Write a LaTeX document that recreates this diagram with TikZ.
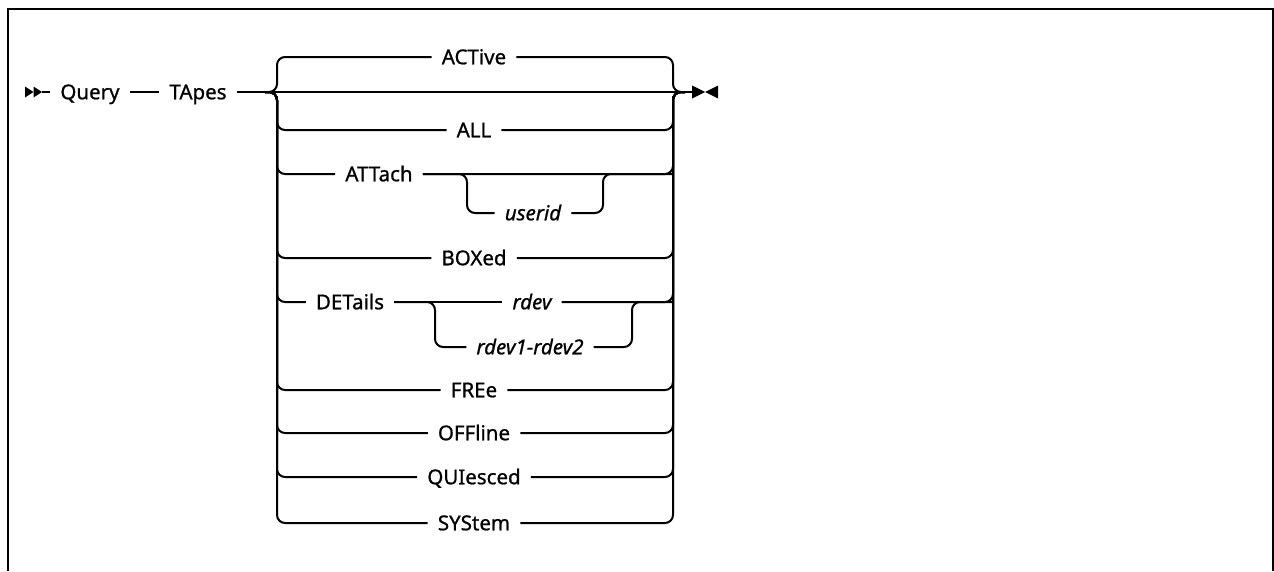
\documentclass[tikz,border=0pt]{standalone}
\usepackage{fontspec}
\setmainfont{Noto Sans}[FakeBold=0.9,ItalicFeatures={FakeBold=0.9}]
\usepackage{tikz}
\usetikzlibrary{positioning,calc}

\begin{document}
\begin{tikzpicture}[
    x=1pt,y=-1pt,
    font=\fontsize{20.5}{23}\selectfont,
    kw/.style={inner xsep=10pt,inner ysep=0pt,text height=14.5pt,text depth=0pt},
    var/.style={kw,font=\fontsize{20.5}{23}\selectfont\itshape},
    track/.style={line width=2pt,rounded corners=8pt},
    frame/.style={line width=2.5pt}
  ]
    \useasboundingbox (0,0) rectangle (1274,571);
    \draw[frame] (8,571) -- (8,9) -- (1273,9) -- (1273,571);

    \node[kw] (query) at (90,92) {Query};
    \node[kw] (tapes) at (198,92) {TApes};

    \node[kw] (active) at (474,57) {ACTive};
    \node[kw] (all) at (474,130) {ALL};
    \node[kw] (attach) at (379,174) {ATTach};
    \node[var] (userid) at (533,213) {userid};
    \node[kw] (boxed) at (474,258) {BOXed};
    \node[kw] (details) at (350,302) {DETails};
    \node[var] (rdev) at (532,302) {rdev};
    \node[var] (rdevr) at (530,347) {rdev1-rdev2};
    \node[kw] (free) at (474,390) {FREe};
    \node[kw] (offline) at (474,433) {OFFline};
    \node[kw] (quiesced) at (474,477) {QUIesced};
    \node[kw] (system) at (474,523) {SYStem};

    \coordinate (start) at (42,92);
    \coordinate (jl) at (265,92);
    \coordinate (jr) at (685,92);
    \coordinate (stop) at (692,92);
    \coordinate (lr) at (277,0);
    \coordinate (rr) at (673,0);
    \coordinate (ul) at (467,0);
    \coordinate (ur) at (603,0);
    \coordinate (dl) at (435,0);
    \coordinate (dr) at (632,0);

    \fill (25,86.5) -- (33.5,92) -- (25,97.5) -- cycle;
    \fill (33.5,86.5) -- (42,92) -- (33.5,97.5) -- cycle;
    \fill (692,85.5) -- (705,92) -- (692,98.5) -- cycle;
    \fill (718,85.5) -- (705,92) -- (718,98.5) -- cycle;

    \draw[track] (start) -- (query.west);
    \draw[track] (query.east) -- (tapes.west);
    \draw[track] (tapes.east) -- (jl) -- (jr) -- (stop);

    \draw[track] (jl) -- (jl -| lr) -- (active -| lr) -- (active.west) (active.east) -- (active -| rr) -- (jr -| rr) -- (jr);
    \draw[track] (jl) -- (jl -| lr) -- (all -| lr) -- (all.west) (all.east) -- (all -| rr) -- (jr -| rr) -- (jr);
    \draw[track] (jl) -- (jl -| lr) -- (attach -| lr) -- (attach.west) (attach.east) -- (attach -| rr) -- (jr -| rr) -- (jr);
    \draw[track] (attach.east) -- (attach -| ul) -- (userid -| ul) -- (userid.west);
    \draw[track] (userid.east) -- (userid -| ur) -- (attach -| ur) -- (attach -| rr);
    \draw[track] (jl) -- (jl -| lr) -- (boxed -| lr) -- (boxed.west) (boxed.east) -- (boxed -| rr) -- (jr -| rr) -- (jr);
    \draw[track] (jl) -- (jl -| lr) -- (details -| lr) -- (details.west);
    \draw[track] (details.east) -- (rdev.west);
    \draw[track] (details.east) -- (details -| dl) -- (rdevr -| dl) -- (rdevr.west);
    \draw[track] (rdevr.east) -- (rdevr -| dr) -- (rdev -| dr) -- (rdev -| rr);
    \draw[track] (rdev.east) -- (rdev -| rr) -- (jr -| rr) -- (jr);
    \draw[track] (jl) -- (jl -| lr) -- (free -| lr) -- (free.west) (free.east) -- (free -| rr) -- (jr -| rr) -- (jr);
    \draw[track] (jl) -- (jl -| lr) -- (offline -| lr) -- (offline.west) (offline.east) -- (offline -| rr) -- (jr -| rr) -- (jr);
    \draw[track] (jl) -- (jl -| lr) -- (quiesced -| lr) -- (quiesced.west) (quiesced.east) -- (quiesced -| rr) -- (jr -| rr) -- (jr);
    \draw[track] (jl) -- (jl -| lr) -- (system -| lr) -- (system.west) (system.east) -- (system -| rr) -- (jr -| rr) -- (jr);
  \end{tikzpicture}
\end{document}
